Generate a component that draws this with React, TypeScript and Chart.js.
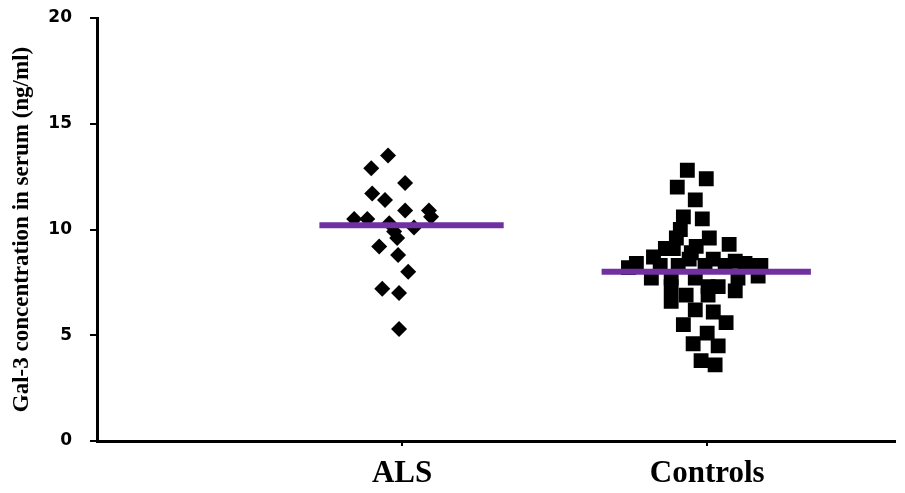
import React, { useEffect, useRef } from "react";
import { Chart, registerables } from "chart.js";

Chart.register(...registerables);

const categories = ["ALS", "Controls"];
const yTicks = [0, 5, 10, 15, 20];

const alsValues = [13.5, 12.9, 12.2, 11.7, 11.4, 10.9, 10.9, 10.6, 10.5, 10.5, 10.3, 10.1, 9.9, 9.6, 9.2, 8.8, 8.0, 7.2, 7.0, 5.3];
const alsPositions = [0.954, 0.899, 1.01, 0.902, 0.944, 1.01, 1.088, 1.095, 0.843, 0.886, 0.958, 1.039, 0.974, 0.984, 0.925, 0.987, 1.02, 0.935, 0.99, 0.99];

const controlValues = [12.8, 12.4, 12.0, 11.4, 10.6, 10.5, 10.0, 9.6, 9.6, 9.3, 9.1, 9.2, 9.1, 8.9, 8.7, 8.6, 8.4, 8.2, 8.6, 8.5, 8.4, 8.3, 8.3, 8.3, 8.3, 8.3, 8.3, 7.7, 7.7, 7.7, 7.7, 7.8, 7.3, 7.3, 7.3, 7.1, 6.9, 6.9, 6.6, 6.2, 6.1, 5.6, 5.5, 5.1, 4.6, 4.5, 3.8, 3.6];
const controlPositions = [1.935, 1.997, 1.902, 1.961, 1.922, 1.984, 1.912, 1.899, 2.007, 2.072, 1.889, 1.964, 1.863, 1.948, 1.824, 1.941, 1.768, 1.742, 2.02, 2.092, 2.124, 2.157, 2.176, 1.846, 1.905, 1.993, 2.059, 1.817, 1.882, 1.961, 2.101, 2.167, 1.882, 2.003, 2.036, 2.092, 2.003, 1.931, 1.882, 1.961, 2.02, 2.062, 1.922, 2.0, 1.954, 2.036, 1.98, 2.026];

const alsMean = 10.2;
const alsMeanSpan = [0.729, 1.333];
const controlMean = 8.0;
const controlMeanSpan = [1.654, 2.34];

export default function App() {
  const ref = useRef<HTMLCanvasElement | null>(null);
  useEffect(() => {
    document.body.style.margin = "0";
    if (!ref.current) return;
    const black = "#000000";
    const purple = "#7030A0";
    const chart = new Chart(ref.current, {
      type: "scatter",
      data: {
        datasets: [
          {
            data: alsMeanSpan.map((x) => ({ x, y: alsMean })),
            showLine: true,
            borderColor: purple,
            borderWidth: 6,
            pointRadius: 0,
            order: 0,
          },
          {
            data: controlMeanSpan.map((x) => ({ x, y: controlMean })),
            showLine: true,
            borderColor: purple,
            borderWidth: 6,
            pointRadius: 0,
            order: 0,
          },
          {
            data: alsValues.map((y, i) => ({ x: alsPositions[i], y })),
            pointStyle: "rectRot",
            pointRadius: 8,
            backgroundColor: black,
            borderColor: black,
            borderWidth: 0,
            order: 1,
          },
          {
            data: controlValues.map((y, i) => ({ x: controlPositions[i], y })),
            pointStyle: "rect",
            pointRadius: 10.5,
            backgroundColor: black,
            borderColor: black,
            borderWidth: 0,
            order: 1,
          },
        ],
      },
      options: {
        animation: false,
        responsive: false,
        layout: { padding: { top: 18, right: 8, left: 0, bottom: 0 } },
        plugins: { legend: { display: false }, tooltip: { enabled: false } },
        scales: {
          x: {
            type: "linear",
            min: 0,
            max: 2.614,
            afterBuildTicks: (s: any) => {
              s.ticks = categories.map((_, i) => ({ value: i + 1 }));
            },
            afterFit: (s: any) => {
              s.height = 52;
              s.paddingLeft = 0;
              s.paddingRight = 0;
            },
            ticks: {
              callback: (v: any) => categories[Math.round(Number(v)) - 1] ?? "",
              color: black,
              font: { family: "Liberation Serif", size: 31, weight: "bold" },
              padding: 9,
              maxRotation: 0,
            },
            grid: {
              drawOnChartArea: false,
              drawTicks: true,
              tickLength: 5,
              color: black,
              lineWidth: 2,
            },
            border: { display: true, color: black, width: 3 },
          },
          y: {
            min: 0,
            max: 20,
            afterBuildTicks: (s: any) => {
              s.ticks = yTicks.map((v) => ({ value: v }));
            },
            afterFit: (s: any) => {
              s.width = 97;
              s.paddingTop = 0;
              s.paddingBottom = 0;
            },
            ticks: {
              color: black,
              font: { family: "DejaVu Sans", size: 17, weight: "bold" },
              padding: 18,
            },
            grid: {
              drawOnChartArea: false,
              drawTicks: true,
              tickLength: 7,
              color: black,
              lineWidth: 2,
            },
            border: { display: true, color: black, width: 3 },
            title: {
              display: true,
              text: "Gal-3 concentration in serum (ng/ml)",
              color: black,
              font: { family: "Liberation Serif", size: 23, weight: "bold" },
              padding: { top: 8, bottom: 0 },
            },
          },
        },
      },
    });
    return () => chart.destroy();
  }, []);
  return (
    <div style={{ width: 905, height: 493 }}>
      <canvas ref={ref} width={905} height={493} style={{ display: "block" }} />
    </div>
  );
}
